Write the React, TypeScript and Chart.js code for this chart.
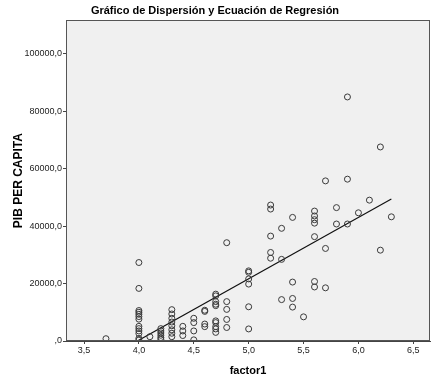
import React, { useEffect, useRef } from "react";
import { Chart, registerables } from "chart.js";

Chart.register(...registerables);

const chartTitle = "Gráfico de Dispersión y Ecuación de Regresión";
const xAxisTitle = "factor1";
const yAxisTitle = "PIB PER CAPITA";

const factor1 = [
  3.7,
  4.0, 4.0, 4.0, 4.0, 4.0, 4.0, 4.0, 4.0, 4.0, 4.0, 4.0, 4.0, 4.0,
  4.1,
  4.2, 4.2, 4.2, 4.2, 4.2, 4.2,
  4.3, 4.3, 4.3, 4.3, 4.3, 4.3, 4.3, 4.3,
  4.4, 4.4, 4.4,
  4.5, 4.5, 4.5, 4.5,
  4.6, 4.6, 4.6, 4.6,
  4.7, 4.7, 4.7, 4.7, 4.7, 4.7, 4.7, 4.7, 4.7, 4.7,
  4.8, 4.8, 4.8, 4.8, 4.8,
  5.0, 5.0, 5.0, 5.0, 5.0, 5.0,
  5.2, 5.2, 5.2, 5.2, 5.2,
  5.3, 5.3, 5.3,
  5.4, 5.4, 5.4, 5.4,
  5.5,
  5.6, 5.6, 5.6, 5.6, 5.6, 5.6, 5.6,
  5.7, 5.7, 5.7,
  5.8, 5.8,
  5.9, 5.9, 5.9,
  6.0,
  6.1,
  6.2, 6.2,
  6.3,
];

const pibPerCapita = [
  800,
  27300, 18300, 10600, 10000, 9300, 8500, 7600, 5100, 4300, 3500, 2600, 900, 300,
  1500,
  4300, 3500, 2800, 2000, 1200, 600,
  10900, 9400, 7900, 6600, 5300, 3900, 2700, 1500,
  5100, 3500, 1900,
  7900, 6400, 3500, 400,
  10700, 10300, 5900, 5000,
  16300, 15700, 13700, 12800, 12300, 7000, 6400, 5000, 4200, 3000,
  34200, 13700, 11000, 7500, 4700,
  24400, 23900, 21600, 19800, 11900, 4200,
  47300, 45900, 36500, 30800, 28800,
  39200, 28400, 14400,
  43000, 20500, 14800, 11800,
  8400,
  45200, 43500, 42200, 41000, 36300, 20700, 18800,
  55700, 32200, 18500,
  46400, 40700,
  84900, 56300, 40700,
  44600,
  49000,
  67500, 31600,
  43200,
];

// regression line endpoints
const fitX = [3.986, 6.3];
const fitY = [0, 49400];

const xTicks = [3.5, 4.0, 4.5, 5.0, 5.5, 6.0, 6.5];
const xTickLabels = ["3,5", "4,0", "4,5", "5,0", "5,5", "6,0", "6,5"];
const yTicks = [0, 20000, 40000, 60000, 80000, 100000];
const yTickLabels = [",0", "20000,0", "40000,0", "60000,0", "80000,0", "100000,0"];

const xMin = 3.336;
const xMax = 6.652;
const yMin = 0;
const yMax = 111600;

const FONT = "'Liberation Sans', Arial, Helvetica, sans-serif";

const framePlugin = {
  id: "frame",
  beforeDraw(chart: any) {
    const { ctx, chartArea } = chart;
    ctx.save();
    ctx.fillStyle = "#f0f0f0";
    ctx.fillRect(chartArea.left, chartArea.top, chartArea.right - chartArea.left, chartArea.bottom - chartArea.top);
    ctx.restore();
  },
  afterDraw(chart: any) {
    const { ctx, chartArea } = chart;
    ctx.save();
    ctx.strokeStyle = "#555";
    ctx.lineWidth = 1;
    ctx.strokeRect(
      Math.round(chartArea.left) + 0.5,
      Math.round(chartArea.top) + 0.5,
      Math.round(chartArea.right - chartArea.left) - 1,
      Math.round(chartArea.bottom - chartArea.top) - 1
    );
    ctx.restore();
  },
};

export default function App() {
  const canvasRef = useRef<HTMLCanvasElement | null>(null);

  useEffect(() => {
    document.body.style.margin = "0";
    document.body.style.background = "#ffffff";
    const canvas = canvasRef.current;
    if (!canvas) return;
    const points = factor1.map((x, i) => ({ x, y: pibPerCapita[i] }));
    const fit = fitX.map((x, i) => ({ x, y: fitY[i] }));

    const chart = new Chart(canvas, {
      type: "scatter",
      data: {
        datasets: [
          {
            data: fit,
            showLine: true,
            borderColor: "#111",
            borderWidth: 1.2,
            pointRadius: 0,
            pointHoverRadius: 0,
            order: 2,
          } as any,
          {
            data: points,
            pointRadius: 3,
            pointBorderWidth: 1,
            pointBorderColor: "#3a3a3a",
            pointBackgroundColor: "rgba(0,0,0,0)",
            borderColor: "#3a3a3a",
            backgroundColor: "rgba(0,0,0,0)",
            order: 1,
          } as any,
        ],
      },
      options: {
        animation: false,
        responsive: false,
        devicePixelRatio: 1,
        layout: { padding: { top: 0, right: 12, bottom: 0, left: 0 } },
        plugins: {
          legend: { display: false },
          tooltip: { enabled: false },
          title: {
            display: true,
            text: chartTitle,
            color: "#000",
            font: { family: FONT, size: 11, weight: "bold" },
            padding: { top: 4, bottom: 3 },
          },
        },
        scales: {
          x: {
            type: "linear",
            min: xMin,
            max: xMax,
            afterBuildTicks: (scale: any) => {
              scale.ticks = xTicks.map((v) => ({ value: v }));
            },
            afterFit: (scale: any) => {
              scale.height = 39;
            },
            ticks: {
              callback: (_v: any, i: number) => xTickLabels[i],
              color: "#222",
              font: { family: FONT, size: 9 },
              padding: 1,
              maxRotation: 0,
              autoSkip: false,
            },
            grid: {
              display: true,
              drawOnChartArea: false,
              drawTicks: true,
              tickLength: 3,
              color: "#444",
            },
            border: { display: true, color: "#444" },
            title: {
              display: true,
              text: xAxisTitle,
              color: "#000",
              font: { family: FONT, size: 11, weight: "bold" },
              padding: { top: 0, bottom: 2 },
            },
          },
          y: {
            type: "linear",
            min: yMin,
            max: yMax,
            afterBuildTicks: (scale: any) => {
              scale.ticks = yTicks.map((v) => ({ value: v }));
            },
            afterFit: (scale: any) => {
              scale.width = 66;
            },
            ticks: {
              callback: (_v: any, i: number) => yTickLabels[i],
              color: "#222",
              font: { family: FONT, size: 9 },
              padding: 1,
              autoSkip: false,
            },
            grid: {
              display: true,
              drawOnChartArea: false,
              drawTicks: true,
              tickLength: 3,
              color: "#444",
            },
            border: { display: true, color: "#444" },
            title: {
              display: true,
              text: yAxisTitle,
              color: "#000",
              font: { family: FONT, size: 12, weight: "bold" },
              padding: { top: 11, bottom: 0 },
            },
          },
        },
      },
      plugins: [framePlugin],
    } as any);

    return () => {
      chart.destroy();
    };
  }, []);

  return (
    <div style={{ width: 442, height: 380 }}>
      <canvas ref={canvasRef} width={442} height={380} style={{ display: "block" }} />
    </div>
  );
}
